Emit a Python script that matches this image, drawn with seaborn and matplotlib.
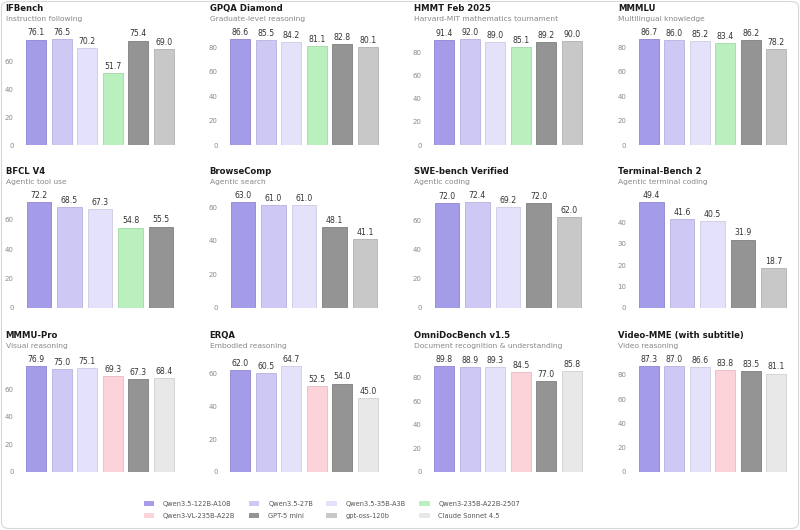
import matplotlib
matplotlib.use("Agg")
import matplotlib.pyplot as plt
from matplotlib.patches import Patch, FancyBboxPatch
from matplotlib.ticker import MaxNLocator
import seaborn as sns
import pandas as pd

sns.set_theme(style="white")
plt.rcParams['font.family'] = ['DejaVu Sans']

# ---------------- data ----------------
models = ["Qwen3.5-122B-A10B", "Qwen3.5-27B", "Qwen3.5-35B-A3B", "Qwen3-235B-A22B-2507",
          "Qwen3-VL-235B-A22B", "GPT-5 mini", "gpt-oss-120b", "Claude Sonnet 4.5"]
colors = ["#a49be9", "#cdc8f4", "#e4e2fa", "#b9f0be",
          "#fdd3da", "#949494", "#c8c8c8", "#e8e8e8"]

benchmarks = ["IFBench", "GPQA Diamond", "HMMT Feb 2025", "MMMLU",
              "BFCL V4", "BrowseComp", "SWE-bench Verified", "Terminal-Bench 2",
              "MMMU-Pro", "ERQA", "OmniDocBench v1.5", "Video-MME (with subtitle)"]
subtitles = ["Instruction following", "Graduate-level reasoning",
             "Harvard-MIT mathematics tournament", "Multilingual knowledge",
             "Agentic tool use", "Agentic search", "Agentic coding", "Agentic terminal coding",
             "Visual reasoning", "Embodied reasoning",
             "Document recognition & understanding", "Video reasoning"]

text_models = ["Qwen3.5-122B-A10B", "Qwen3.5-27B", "Qwen3.5-35B-A3B",
               "Qwen3-235B-A22B-2507", "GPT-5 mini", "gpt-oss-120b"]
tool_models = ["Qwen3.5-122B-A10B", "Qwen3.5-27B", "Qwen3.5-35B-A3B",
               "Qwen3-235B-A22B-2507", "GPT-5 mini"]
agent_models = ["Qwen3.5-122B-A10B", "Qwen3.5-27B", "Qwen3.5-35B-A3B",
                "GPT-5 mini", "gpt-oss-120b"]
vision_models = ["Qwen3.5-122B-A10B", "Qwen3.5-27B", "Qwen3.5-35B-A3B",
                 "Qwen3-VL-235B-A22B", "GPT-5 mini", "Claude Sonnet 4.5"]

ifbench = [76.1, 76.5, 70.2, 51.7, 75.4, 69.0]
gpqa = [86.6, 85.5, 84.2, 81.1, 82.8, 80.1]
hmmt = [91.4, 92.0, 89.0, 85.1, 89.2, 90.0]
mmmlu = [86.7, 86.0, 85.2, 83.4, 86.2, 78.2]
bfcl = [72.2, 68.5, 67.3, 54.8, 55.5]
browsecomp = [63.0, 61.0, 61.0, 48.1, 41.1]
swebench = [72.0, 72.4, 69.2, 72.0, 62.0]
terminal = [49.4, 41.6, 40.5, 31.9, 18.7]
mmmu_pro = [76.9, 75.0, 75.1, 69.3, 67.3, 68.4]
erqa = [62.0, 60.5, 64.7, 52.5, 54.0, 45.0]
omnidoc = [89.8, 88.9, 89.3, 84.5, 77.0, 85.8]
videomme = [87.3, 87.0, 86.6, 83.8, 83.5, 81.1]

panel_models = [text_models, text_models, text_models, text_models,
                tool_models, agent_models, agent_models, agent_models,
                vision_models, vision_models, vision_models, vision_models]
panel_scores = [ifbench, gpqa, hmmt, mmmlu, bfcl, browsecomp, swebench, terminal,
                mmmu_pro, erqa, omnidoc, videomme]

palette = dict(zip(models, colors))

# ---------------- layout ----------------
W, H = 800, 530
fig = plt.figure(figsize=(W / 100, H / 100), dpi=100)
fig.patch.set_facecolor("white")

col_left = [23.5, 227.5, 431.5, 636.0]
row_bottom = [145, 308, 472]
ax_w = 153
head = 1.1
ax_h = 106 * head


def darker(hexc, f=0.85):
    r, g, b = matplotlib.colors.to_rgb(hexc)
    return (r * f, g * f, b * f)


for i, (bench, sub, mods, vals) in enumerate(zip(benchmarks, subtitles, panel_models, panel_scores)):
    r, c = divmod(i, 4)
    left = col_left[c]
    bottom = row_bottom[r]
    ax = fig.add_axes([left / W, 1 - bottom / H, ax_w / W, ax_h / H])
    df = pd.DataFrame({"model": mods, "score": vals})
    sns.barplot(data=df, x="model", y="score", hue="model", palette=palette,
                order=mods, hue_order=mods, legend=False, width=0.8, ax=ax,
                saturation=1)
    for p in ax.patches:
        fc = matplotlib.colors.to_hex(p.get_facecolor())
        p.set_edgecolor(darker(fc, 0.92))
        p.set_linewidth(0.7)
    for cont in ax.containers:
        ax.bar_label(cont, fmt="%.1f", padding=1.5, fontsize=5.6, color="#333333")
    top = max(vals)
    ax.set_ylim(0, top * head)
    loc = MaxNLocator(nbins=5, steps=[1, 2, 5, 10])
    ticks = [t for t in loc.tick_values(0, top) if 0 <= t <= top]
    ax.set_yticks(ticks)
    ax.set_yticklabels([f"{t:g}" for t in ticks])
    ax.tick_params(axis="y", length=0, labelsize=5, labelcolor="#8a8a8a", pad=7)
    ax.tick_params(axis="x", length=0, labelbottom=False)
    ax.set_xlabel("")
    ax.set_ylabel("")
    ax.set_xlim(-0.5, len(mods) - 0.5)
    for s in ax.spines.values():
        s.set_visible(False)
    ax.set_facecolor("none")

    title_y = bottom - 136.5
    tx = left - 18
    fig.text(tx / W, 1 - title_y / H, bench, fontsize=6.1, fontweight="bold",
             color="#1a1a1a", ha="left", va="center")
    fig.text(tx / W, 1 - (title_y + 10.3) / H, sub, fontsize=5.4,
             color="#888888", ha="left", va="center")

handles = [Patch(facecolor=col, edgecolor="none", label=m) for m, col in zip(models, colors)]
# legend fills column-wise: reorder so rows read left-to-right
ncol = 4
order = [j * ncol + k for k in range(ncol) for j in range(2)]
handles = [handles[o] for o in order]
leg = fig.legend(handles=handles, ncol=ncol, loc="center",
                 bbox_to_anchor=(332 / W, 1 - 510 / H), frameon=False,
                 fontsize=4.8, handlelength=1.6, handleheight=0.8,
                 handletextpad=1.3, columnspacing=2.0, labelspacing=0.9)
for t in leg.get_texts():
    t.set_color("#555555")

frame = FancyBboxPatch((1.5 / W, 1.5 / H), (W - 3) / W, (H - 3) / H,
                       boxstyle="round,pad=0,rounding_size=0.01",
                       transform=fig.transFigure, facecolor="none",
                       edgecolor="#d8d8d8", linewidth=0.8)
fig.patches.append(frame)

fig.savefig("out.png", dpi=100, facecolor="white")
